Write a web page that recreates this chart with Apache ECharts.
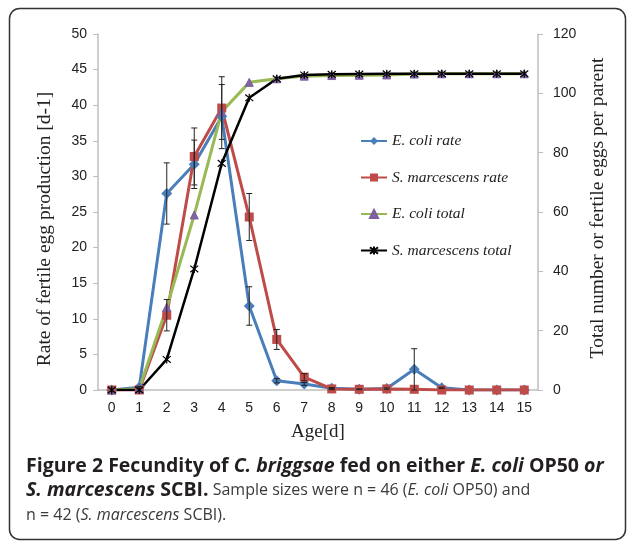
<!DOCTYPE html>
<html>
<head>
<meta charset="utf-8">
<script src="https://cdn.jsdelivr.net/npm/echarts@6/dist/echarts.min.js"></script>
<style>
  html, body { margin: 0; padding: 0; background: #fff; }
  #main { width: 627px; height: 542px; }
</style>
</head>
<body>
<div id="main"></div>
<script>
// 数据
var ages = ['0', '1', '2', '3', '4', '5', '6', '7', '8', '9', '10', '11', '12', '13', '14', '15'];
var ecoliRate = [0, 0.4, 27.6, 31.7, 38.4, 11.8, 1.3, 0.85, 0.25, 0.1, 0.2, 2.9, 0.3, 0, 0, 0];
var ecoliRateErr = [0, 0.1, 4.3, 3.4, 4.5, 2.7, 0.3, 0.2, 0.1, 0.05, 0.1, 2.9, 0.1, 0, 0, 0];
var smRate = [0, 0, 10.5, 32.8, 39.6, 24.3, 7.1, 1.8, 0.15, 0.1, 0.15, 0.1, 0, 0, 0, 0];
var smRateErr = [0, 0, 2.2, 4.0, 4.4, 3.3, 1.4, 0.5, 0.1, 0, 0, 0, 0, 0, 0, 0];
var ecoliTotal = [0, 0.4, 27.9, 59.0, 93.8, 103.7, 104.9, 105.8, 106.0, 106.1, 106.2, 106.5, 106.6, 106.6, 106.6, 106.6];
var smTotal = [0, 0, 10.3, 40.8, 76.4, 98.5, 104.9, 106.2, 106.4, 106.5, 106.6, 106.6, 106.6, 106.6, 106.6, 106.6];

var names = ['E. coli rate', 'S. marcescens rate', 'E. coli total', 'S. marcescens total'];

function withErr(vals, errs) {
  var out = [];
  for (var i = 0; i < vals.length; i++) {
    out.push([i, vals[i], errs[i]]);
  }
  return out;
}

// 误差线
function renderErr(params, api) {
  var x = api.value(0), y = api.value(1), e = api.value(2);
  if (!e) return;
  var top = api.coord([x, y + e]);
  var bot = api.coord([x, y - e]);
  var w = 3;
  var st = { stroke: '#222', lineWidth: 1 };
  return {
    type: 'group',
    children: [
      { type: 'line', shape: { x1: top[0], y1: top[1], x2: bot[0], y2: bot[1] }, style: st },
      { type: 'line', shape: { x1: top[0] - w, y1: top[1], x2: top[0] + w, y2: top[1] }, style: st },
      { type: 'line', shape: { x1: bot[0] - w, y1: bot[1], x2: bot[0] + w, y2: bot[1] }, style: st }
    ]
  };
}

var starPath = 'path://M0,0L10,10M10,0L0,10M5,-1L5,11';

var myChart = echarts.init(document.getElementById('main'));
myChart.setOption({
  animation: false,
  grid: { left: 98, right: 89, top: 34, bottom: 152 },
  legend: {
    data: names,
    orient: 'vertical',
    left: 360,
    top: 133,
    padding: 0,
    itemWidth: 26,
    itemHeight: 10,
    itemGap: 20.5,
    textStyle: { fontFamily: 'Liberation Serif', fontStyle: 'italic', fontSize: 15.5, color: '#222', lineHeight: 16 }
  },
  xAxis: {
    type: 'category',
    data: ages,
    name: 'Age[d]',
    nameLocation: 'middle',
    nameGap: 33,
    nameTextStyle: { fontFamily: 'Liberation Serif', fontSize: 19, color: '#222' },
    axisLine: { lineStyle: { color: '#bfbfbf', width: 1.5 } },
    axisTick: { show: false },
    axisLabel: { margin: 11, fontFamily: 'Liberation Sans', fontSize: 14, color: '#222' }
  },
  yAxis: [
    {
      type: 'value',
      min: 0, max: 50, interval: 5,
      splitLine: { show: false },
      axisLine: { show: true, lineStyle: { color: '#bfbfbf', width: 1.5 } },
      axisTick: { show: true, length: 5, lineStyle: { color: '#bfbfbf' } },
      axisLabel: { margin: 11, fontFamily: 'Liberation Sans', fontSize: 14, color: '#222' }
    },
    {
      type: 'value',
      min: 0, max: 120, interval: 20,
      splitLine: { show: false },
      axisLine: { show: true, lineStyle: { color: '#bfbfbf', width: 1.5 } },
      axisTick: { show: true, length: 5, lineStyle: { color: '#bfbfbf' } },
      axisLabel: { margin: 15, fontFamily: 'Liberation Sans', fontSize: 14, color: '#222' }
    }
  ],
  series: [
    {
      name: names[0], type: 'line', yAxisIndex: 0, data: ecoliRate,
      symbol: 'diamond', symbolSize: 11,
      lineStyle: { color: '#4a7ebb', width: 3 },
      itemStyle: { color: '#4a7ebb' }
    },
    {
      name: names[1], type: 'line', yAxisIndex: 0, data: smRate,
      symbol: 'rect', symbolSize: 9,
      lineStyle: { color: '#be4b48', width: 3 },
      itemStyle: { color: '#be4b48' }
    },
    {
      name: names[2], type: 'line', yAxisIndex: 1, data: ecoliTotal,
      symbol: 'triangle', symbolSize: 8,
      lineStyle: { color: '#98b954', width: 3 },
      itemStyle: { color: '#8064a2', borderColor: '#7a5fa0', borderWidth: 1 }
    },
    {
      name: names[3], type: 'line', yAxisIndex: 1, data: smTotal,
      symbol: starPath, symbolSize: 8,
      lineStyle: { color: '#000', width: 2.5 },
      itemStyle: { color: '#000', borderColor: '#000', borderWidth: 1.2 }
    },
    {
      type: 'custom', yAxisIndex: 0, z: 5,
      renderItem: renderErr,
      data: withErr(ecoliRate, ecoliRateErr)
    },
    {
      type: 'custom', yAxisIndex: 0, z: 5,
      renderItem: renderErr,
      data: withErr(smRate, smRateErr)
    }
  ],
  graphic: [
    {
      type: 'rect',
      shape: { x: 9.5, y: 8.5, width: 616, height: 531, r: 10 },
      style: { fill: 'none', stroke: '#333', lineWidth: 1.5 },
      silent: true
    },
    {
      type: 'text', x: 45, y: 229, rotation: Math.PI / 2,
      style: {
        text: 'Rate of fertile egg production [d-1]',
        fontFamily: 'Liberation Serif', fontSize: 19.5, fill: '#222',
        align: 'center', verticalAlign: 'middle'
      }
    },
    {
      type: 'text', x: 598, y: 208, rotation: Math.PI / 2,
      style: {
        text: 'Total number or fertile eggs per parent',
        fontFamily: 'Liberation Serif', fontSize: 19.5, fill: '#222',
        align: 'center', verticalAlign: 'middle'
      }
    },
    {
      type: 'text', x: 26, y: 454,
      style: {
        text: '{b|Figure 2 Fecundity of }{bi|C. briggsae}{b| fed on either }{bi|E. coli}{b| OP50 }{bi|or}\n' +
              '{bi|S. marcescens}{b| SCBI.}{r| Sample sizes were n = 46 (}{i|E. coli}{r| OP50) and}\n' +
              '{r|n = 42 (}{i|S. marcescens}{r| SCBI).}',
        fontFamily: 'Open Sans', fontSize: 16,
        rich: {
          b: { fontFamily: 'Open Sans', fontSize: 19.5, fontWeight: 'bold', fill: '#231f20', lineHeight: 24.5 },
          bi: { fontFamily: 'Open Sans', fontSize: 19.5, fontWeight: 'bold', fontStyle: 'italic', fill: '#231f20', lineHeight: 24.5 },
          r: { fontFamily: 'Open Sans', fontSize: 16, fill: '#3a3a3a', lineHeight: 24.5 },
          i: { fontFamily: 'Open Sans', fontSize: 16, fontStyle: 'italic', fill: '#3a3a3a', lineHeight: 24.5 }
        }
      }
    }
  ]
});
</script>
</body>
</html>
